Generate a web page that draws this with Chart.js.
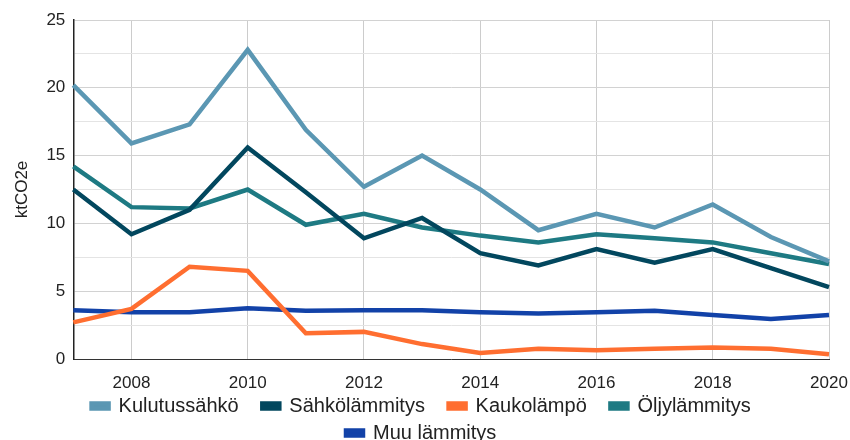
<!DOCTYPE html>
<html>
<head>
<meta charset="utf-8">
<script src="https://cdn.jsdelivr.net/npm/chart.js@4"></script>
<style>
  html, body { margin: 0; padding: 0; background: #fff; }
  #wrap { width: 850px; height: 440px; }
</style>
</head>
<body>
<div id="wrap"><canvas id="chart"></canvas></div>
<script>
const years = ["2007", "2008", "2009", "2010", "2011", "2012", "2013",
    "2014", "2015", "2016", "2017", "2018", "2019", "2020"];

const kulutussahko = [20.2, 15.9, 17.3, 22.8, 16.9, 12.7, 15.0, 12.5, 9.5, 10.7, 9.7, 11.4, 9.0, 7.2];
const sahkolammitys = [12.5, 9.2, 11.0, 15.6, 12.3, 8.9, 10.4, 7.8, 6.9, 8.1, 7.1, 8.1, 6.7, 5.3];
const kaukolampo = [2.7, 3.7, 6.8, 6.5, 1.9, 2.0, 1.1, 0.45, 0.75, 0.65, 0.75, 0.85, 0.75, 0.35];
const oljylammitys = [14.2, 11.2, 11.1, 12.5, 9.9, 10.7, 9.7, 9.1, 8.6, 9.2, 8.9, 8.6, 7.8, 7.0];
const muuLammitys = [3.6, 3.45, 3.45, 3.75, 3.55, 3.6, 3.6, 3.45, 3.35, 3.45, 3.55, 3.25, 2.95, 3.25];

const seriesNames = ["Kulutussähkö", "Sähkölämmitys", "Kaukolämpö", "Öljylämmitys", "Muu lämmitys"];
const colors = ["#5b97b3", "#02475e", "#ff6e30", "#1e7a83", "#1242a8"];

const font = "'Liberation Sans', Arial, sans-serif";

const seriesData = [kulutussahko, sahkolammitys, kaukolampo, oljylammitys, muuLammitys];

new Chart(document.getElementById("chart").getContext("2d"), {
    type: "line",
    data: {
        labels: years,
        datasets: seriesData.map((d, i) => ({
            label: seriesNames[i],
            data: d,
            borderColor: colors[i],
            backgroundColor: colors[i],
            borderWidth: 4.5,
            borderJoinStyle: "miter",
            pointRadius: 0,
            tension: 0,
        })),
    },
    options: {
        responsive: true,
        maintainAspectRatio: false,
        animation: false,
        // legend runs a bit past the bottom edge so its rows sit lower
        layout: { padding: { left: 9, right: 0, top: 20, bottom: -13 } },
        plugins: {
            tooltip: { enabled: false },
            legend: {
                position: "bottom",
                labels: {
                    font: { family: font, size: 20 },
                    color: "#222",
                    boxWidth: 17,
                    boxHeight: 5,
                    padding: 7,
                    // wider gap between items than between rows, as in the sheet export
                    generateLabels: (chart) =>
                        Chart.defaults.plugins.legend.labels.generateLabels(chart)
                            .map((item) => ({ ...item, text: item.text + "   " })),
                },
            },
        },
        scales: {
            x: {
                type: "category",
                offset: false,
                border: { color: "#333", width: 1 },
                grid: {
                    color: (ctx) => (ctx.index % 2 === 1 ? "#cccccc" : "transparent"),
                    drawTicks: false,
                },
                ticks: {
                    autoSkip: false,
                    maxRotation: 0,
                    padding: 14,
                    color: "#222",
                    font: { family: font, size: 17 },
                    callback: (v, i) => (i % 2 === 1 ? years[i] : ""),
                },
                afterFit: (scale) => {
                    scale.paddingRight = 21;
                    scale.height = 30;
                },
            },
            y: {
                min: 0,
                max: 25,
                border: { color: "#222", width: 1.5 },
                grid: {
                    color: (ctx) => (ctx.tick && ctx.tick.value % 5 === 0 ? "#d2d2d2" : "#e4e4e4"),
                    drawTicks: false,
                },
                ticks: {
                    stepSize: 2.5,
                    autoSkip: false,
                    padding: 8,
                    color: "#222",
                    font: { family: font, size: 17 },
                    callback: (v) => (v % 5 === 0 ? v : ""),
                },
                title: {
                    display: true,
                    text: "ktCO2e",
                    color: "#222",
                    font: { family: font, size: 17 },
                    padding: { top: 3, bottom: 6 },
                },
            },
        },
    },
});
</script>
</body>
</html>
